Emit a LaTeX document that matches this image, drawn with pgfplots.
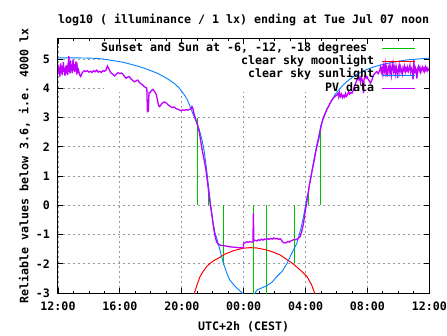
\documentclass[border=0pt]{standalone}
\usepackage{fontspec}
\setmainfont{DejaVu Sans Mono}
\usepackage{pgfplots}
\pgfplotsset{compat=1.18}
\definecolor{gpgreen}{HTML}{00C000}
\definecolor{gpred}{HTML}{FF0000}
\definecolor{gpblue}{HTML}{0080FF}
\definecolor{gppurple}{HTML}{C000FF}

\pgfplotstableread{
x y
21.0 0
21.0 2.98
21.0 nan
21.72 0
21.72 0.45
21.72 nan
22.7 0
22.7 -2.05
22.7 nan
24.64 0
24.64 -4
24.64 nan
25.46 0
25.46 -4
25.46 nan
27.27 0
27.27 -1.99
27.27 nan
28.2 0
28.2 0.4
28.2 nan
28.95 0
28.95 2.57
}\sunevents

\pgfplotstableread{
x y
20.6 -3.4
20.82 -3.0
21.0 -2.7
21.18 -2.44
21.4 -2.25
21.6 -2.1
21.8 -2.0
22.1 -1.88
22.4 -1.8
22.8 -1.67
23.3 -1.56
23.95 -1.47
24.4 -1.45
24.84 -1.46
25.5 -1.53
26.0 -1.62
26.36 -1.7
27.0 -1.93
27.3 -2.05
27.65 -2.21
28.1 -2.44
28.4 -2.73
28.58 -3.0
28.7 -3.3
}\moon

\pgfplotstableread{
x y
12.0 5.04
13.0 5.04
14.0 5.03
14.5 5.02
15.0 4.99
15.5 4.95
16.2 4.89
16.7 4.82
17.26 4.74
17.8 4.64
18.34 4.53
18.8 4.41
19.2 4.28
19.55 4.15
19.85 4.0
20.17 3.77
20.35 3.62
20.5 3.43
20.71 3.14
20.93 2.86
21.14 2.57
21.3 2.25
21.45 1.85
21.6 1.25
21.72 0.7
21.85 0.1
22.0 -0.5
22.15 -0.95
22.3 -1.2
22.5 -1.6
22.7 -2.0
22.9 -2.3
23.1 -2.55
23.4 -2.75
23.7 -2.9
23.9 -3.0
24.3 -3.2
24.7 -3.05
24.85 -2.9
25.2 -2.82
25.5 -2.75
25.85 -2.62
26.14 -2.44
26.5 -2.25
26.8 -1.99
27.1 -1.65
27.44 -1.3
27.7 -0.8
27.87 -0.39
28.0 0.0
28.1 0.29
28.2 0.5
28.3 0.86
28.5 1.43
28.7 2.0
28.84 2.34
29.0 2.75
29.2 3.03
29.4 3.3
29.6 3.49
29.9 3.78
30.24 4.0
30.6 4.2
31.1 4.4
31.5 4.53
32.0 4.65
32.6 4.76
33.3 4.85
34.0 4.92
34.55 4.97
35.3 5.0
36.0 5.03
}\sun

\pgfplotstableread{
x y
12.00 4.62
12.03 4.80
12.06 4.48
12.09 4.72
12.12 4.40
12.15 4.66
12.18 4.85
12.21 4.50
12.25 4.75
12.28 4.45
12.31 4.62
12.35 4.90
12.38 4.55
12.42 4.70
12.45 4.42
12.48 4.60
12.52 4.78
12.55 4.50
12.58 4.65
12.62 4.45
12.65 4.70
12.70 5.10
12.72 4.55
12.75 4.80
12.78 4.50
12.82 4.95
12.85 4.60
12.88 4.78
12.92 4.52
12.95 4.85
12.98 4.98
13.02 4.60
13.05 4.82
13.08 4.55
13.12 4.70
13.16 4.92
13.20 4.62
13.24 4.75
13.28 4.55
13.33 4.62
13.40 4.45
13.47 4.40
13.52 4.48
13.60 4.55
13.70 4.60
13.80 4.57
13.90 4.60
14.0 4.55
14.1 4.58
14.2 4.54
14.3 4.60
14.4 4.56
14.5 4.62
14.6 4.55
14.7 4.58
14.8 4.54
14.9 4.60
15.0 4.58
15.1 4.62
15.2 4.76
15.3 4.65
15.4 4.53
15.5 4.50
15.65 4.42
15.75 4.47
15.86 4.53
16.0 4.50
16.1 4.52
16.2 4.48
16.3 4.40
16.4 4.34
16.5 4.38
16.6 4.40
16.7 4.33
16.8 4.28
16.94 4.22
17.05 4.25
17.15 4.28
17.25 4.20
17.37 4.15
17.45 4.12
17.58 4.05
17.66 4.03
17.74 4.00
17.76 3.60
17.78 3.20
17.84 3.22
17.88 3.85
17.95 3.85
18.05 3.93
18.13 3.96
18.2 3.92
18.27 3.86
18.34 3.80
18.42 3.62
18.5 3.42
18.55 3.37
18.62 3.40
18.7 3.47
18.77 3.50
18.85 3.53
18.92 3.52
18.99 3.50
19.1 3.44
19.2 3.40
19.3 3.36
19.4 3.34
19.5 3.36
19.63 3.30
19.75 3.28
19.85 3.26
19.96 3.23
20.05 3.26
20.15 3.24
20.28 3.27
20.4 3.25
20.5 3.28
20.6 3.30
20.66 3.37
20.72 3.30
20.8 3.12
20.88 2.98
20.95 2.86
21.05 2.70
21.15 2.45
21.25 2.10
21.35 1.80
21.45 1.55
21.55 1.25
21.65 0.85
21.75 0.40
21.85 0.00
21.95 -0.35
22.05 -0.75
22.15 -1.05
22.25 -1.25
22.35 -1.33
22.5 -1.37
22.7 -1.38
22.9 -1.40
23.1 -1.42
23.3 -1.43
23.5 -1.44
23.7 -1.45
23.9 -1.45
23.98 -1.45
24.0 -1.30
24.1 -1.28
24.2 -1.25
24.3 -1.27
24.4 -1.24
24.5 -1.26
24.6 -1.25
24.63 -0.28
24.66 -1.22
24.75 -1.20
24.85 -1.22
24.95 -1.18
25.05 -1.20
25.15 -1.16
25.25 -1.19
25.35 -1.15
25.45 -1.18
25.55 -1.14
25.65 -1.17
25.75 -1.13
25.85 -1.16
25.95 -1.12
26.05 -1.15
26.15 -1.13
26.25 -1.17
26.35 -1.14
26.45 -1.20
26.55 -1.27
26.65 -1.29
26.75 -1.28
26.85 -1.24
26.95 -1.26
27.05 -1.22
27.15 -1.20
27.25 -1.17
27.35 -1.18
27.45 -1.16
27.55 -1.12
27.65 -1.07
27.75 -0.90
27.87 -0.62
27.95 -0.30
28.05 0.00
28.15 0.35
28.25 0.70
28.35 0.95
28.45 1.25
28.55 1.50
28.65 1.80
28.75 2.05
28.85 2.25
28.95 2.55
29.05 2.80
29.15 3.00
29.27 3.14
29.38 3.28
29.48 3.37
29.6 3.50
29.7 3.60
29.8 3.66
29.9 3.72
30.03 3.77
30.1 3.82
30.15 3.70
30.2 3.85
30.27 3.72
30.33 3.80
30.4 3.68
30.46 3.75
30.52 3.70
30.58 3.82
30.64 3.72
30.7 3.76
30.78 3.88
30.85 3.80
30.93 3.86
31.0 3.83
31.08 3.92
31.15 4.05
31.2 4.11
31.3 4.25
31.4 4.40
31.45 4.30
31.5 4.35
31.55 4.20
31.6 4.38
31.68 4.25
31.75 3.83
31.78 4.30
31.85 4.42
31.92 4.35
31.97 4.40
32.05 4.30
32.12 4.25
32.2 4.17
32.3 4.30
32.4 4.45
32.5 4.52
32.6 4.57
32.7 4.50
32.8 4.62
32.85 4.72
32.9 4.55
32.95 4.68
33.0 4.48
33.05 4.75
33.1 4.60
33.15 4.82
33.2 4.52
33.25 4.70
33.3 4.40
33.35 4.66
33.4 4.78
33.45 4.55
33.5 4.72
33.55 4.45
33.6 4.68
33.65 4.85
33.7 4.58
33.75 4.70
33.8 4.50
33.85 4.76
33.9 4.62
33.95 4.35
34.0 4.65
34.05 4.80
34.1 4.55
34.15 4.72
34.2 4.60
34.25 4.48
34.3 4.70
34.35 4.62
34.4 4.75
34.45 4.56
34.5 4.68
34.55 4.60
34.6 4.72
34.65 4.58
34.7 4.66
34.75 4.78
34.8 4.55
34.85 4.68
34.9 4.62
34.95 4.30
35.0 4.97
35.05 4.50
35.1 4.70
35.15 4.62
35.2 4.33
35.25 4.68
35.3 4.75
35.35 4.60
35.4 4.70
35.45 4.55
35.5 4.66
35.55 4.72
35.6 4.60
35.65 4.68
35.7 4.58
35.75 4.72
35.8 4.62
35.85 4.70
35.9 4.60
35.95 4.66
36.0 4.64
}\pv

\begin{document}
\begin{tikzpicture}[font=\fontsize{11.63}{13}\selectfont\bfseries]
\begin{axis}[
  scale only axis, width=371.3pt, height=254.5pt,
  xmin=12, xmax=36, ymin=-3, ymax=5.7,
  xtick={12,16,20,24,28,32,36},
  xticklabels={12:00,16:00,20:00,00:00,04:00,08:00,12:00},
  minor x tick num=3,
  ytick={-3,-2,-1,0,1,2,3,4,5},
  yticklabels={-3,-2,-1,0,1,2,3,4,5},
  xticklabel style={inner sep=0pt, yshift=-8.7pt},
  yticklabel style={inner sep=0pt, xshift=-8pt},
  major tick length=5pt, minor tick length=2.5pt,
  tick style={black, line width=0.8pt},
  axis line style={black, line width=1pt},
  grid=major,
  major grid style={black!40, line width=0.8pt, dash pattern=on 2pt off 3pt},
  title={log10 ( illuminance / 1 lx) ending at Tue Jul 07 noon},
  every axis title shift=0pt,
  title style={at={(0.5,1)}, anchor=base, yshift=15.2pt, inner sep=0pt},
  xlabel={UTC+2h (CEST)},
  every axis x label/.style={at={(0.5,0)}, anchor=base, yshift=-37pt, inner sep=0pt},
  ylabel={Reliable values below 3.6, i.e. 4000 lx},
  every axis y label/.style={at={([xshift=-29.7pt]axis description cs:0,0.5)}, rotate=90, anchor=base, inner sep=0pt},
  legend style={at={(1,1)}, anchor=north east, xshift=-13.3pt, yshift=-3.5pt,
    draw=none, fill=none, inner sep=0pt, outer sep=0pt, row sep=0pt, column sep=7.5pt,
    nodes={inner sep=0pt, text height=9.2pt, text depth=4.13pt}},
  legend plot pos=right,
  legend cell align=right,
  legend image code/.code={\draw[#1] (0pt,0pt) -- (33pt,0pt);},
]
\coordinate (ll) at (rel axis cs:0,0);
\coordinate (ur) at (rel axis cs:1,1);
\fill[white] (axis cs:15,3.87) rectangle ([xshift=-5.5pt,yshift=-5.5pt]rel axis cs:1,1);
\addplot[gpgreen, line width=1.3pt, unbounded coords=jump] table {\sunevents};
\addlegendentry{Sunset and Sun at -6, -12, -18 degrees\phantom{x}}
\addplot[gpred, line width=1pt] table {\moon};
\addlegendentry{clear sky moonlight}
\addplot[gpblue, line width=0.9pt] table {\sun};
\addlegendentry{clear sky sunlight}
\addplot[gppurple, line width=1.3pt] table {\pv};
\addlegendentry{PV data}
\end{axis}
\pgfresetboundingbox
\path ([shift={(-58pt,-42pt)}]ll) rectangle ([shift={(17.7pt,38.5pt)}]ur);
\end{tikzpicture}
\end{document}
